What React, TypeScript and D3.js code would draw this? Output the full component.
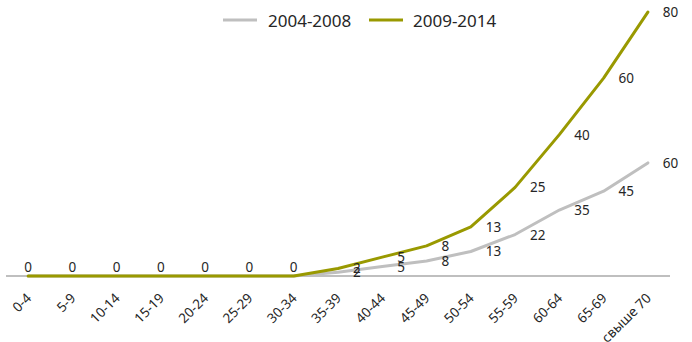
import React from "react";
import * as d3 from "d3";

// Age groups on the x axis
const categories = [
  "0-4", "5-9", "10-14", "15-19", "20-24", "25-29", "30-34", "35-39",
  "40-44", "45-49", "50-54", "55-59", "60-64", "65-69", "свыше 70",
];

// Series values (the chart stacks the second line on top of the first)
const values20042008 = [0, 0, 0, 0, 0, 0, 0, 2, 5, 8, 13, 22, 35, 45, 60];
const values20092014 = [0, 0, 0, 0, 0, 0, 0, 2, 5, 8, 13, 25, 40, 60, 80];

const seriesNames = ["2004-2008", "2009-2014"];
const seriesColors = ["#BFBFBF", "#999900"];

const W = 692;
const H = 342;
const FONT = "'Noto Sans', 'Open Sans', sans-serif";
const TEXT = "#262626";

export default function App() {
  const x = d3
    .scaleBand<string>()
    .domain(categories)
    .range([6, 670])
    .paddingInner(0)
    .paddingOuter(0);
  const cx = (c: string) => (x(c) as number) + x.bandwidth() / 2;

  const y = d3.scaleLinear().domain([0, 100]).range([276, 87.5]);

  const stacked = [
    values20042008,
    values20042008.map((v, i) => v + values20092014[i]),
  ];
  const raw = [values20042008, values20092014];

  const line = d3
    .line<number>()
    .x((_, i) => cx(categories[i]))
    .y((d) => y(d))
    .curve(d3.curveLinear);

  // legend layout
  const legend = [
    { lx: 223, tx: 268 },
    { lx: 369, tx: 413 },
  ];

  return (
    <svg
      width={W}
      height={H}
      style={{ position: "absolute", left: 0, top: 0, background: "#fff" }}
      fontFamily={FONT}
    >
      {/* category axis */}
      <line x1={6} x2={670} y1={y(0)} y2={y(0)} stroke="#BFBFBF" strokeWidth={2} />

      {/* series lines */}
      {stacked.map((vals, s) => (
        <path
          key={s}
          d={line(vals) ?? ""}
          fill="none"
          stroke={seriesColors[s]}
          strokeWidth={3}
          strokeLinejoin="round"
          strokeLinecap="round"
        />
      ))}

      {/* data labels */}
      {stacked.map((vals, s) =>
        vals.map((v, i) => {
          const val = raw[s][i];
          if (val === 0) {
            if (s === 1) return null;
            return (
              <text
                key={`z${i}`}
                x={cx(categories[i])}
                y={y(0) - 9}
                textAnchor="middle"
                dominantBaseline="central"
                fontSize={13.5}
                fill={TEXT}
              >
                {val}
              </text>
            );
          }
          return (
            <text
              key={`${s}-${i}`}
              x={cx(categories[i]) + 15}
              y={y(v)}
              dominantBaseline="central"
              fontSize={13.5}
              fill={TEXT}
            >
              {val}
            </text>
          );
        })
      )}

      {/* rotated tick labels */}
      {categories.map((c) => (
        <text
          key={c}
          transform={`translate(${cx(c) + 4},${299}) rotate(-45)`}
          textAnchor="end"
          fontSize={13.5}
          fill={TEXT}
        >
          {c}
        </text>
      ))}

      {/* legend */}
      {seriesNames.map((n, s) => (
        <g key={n}>
          <line
            x1={legend[s].lx}
            x2={legend[s].lx + 34}
            y1={20}
            y2={20}
            stroke={seriesColors[s]}
            strokeWidth={3}
          />
          <text x={legend[s].tx} y={26.5} fontSize={17} fill={TEXT}>
            {n}
          </text>
        </g>
      ))}
    </svg>
  );
}
